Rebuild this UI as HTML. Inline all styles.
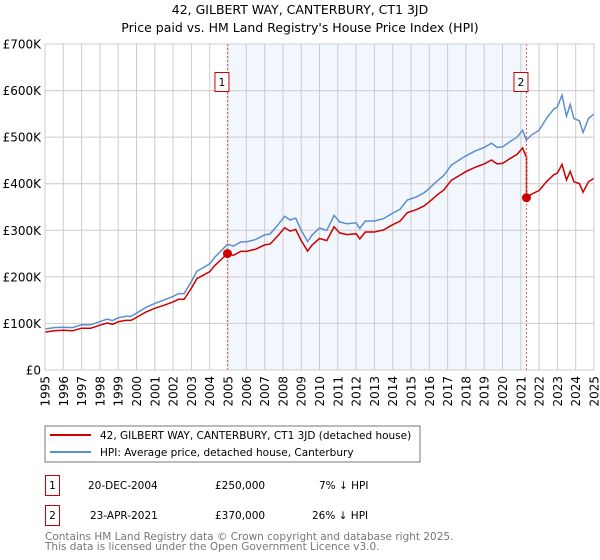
<!DOCTYPE html>
<html><head><meta charset="utf-8"><style>
body{margin:0;background:#fff;font-family:"DejaVu Sans","Liberation Sans",sans-serif;}
#wrap{position:relative;width:600px;height:560px;overflow:hidden;}
svg text{font-family:"DejaVu Sans","Liberation Sans",sans-serif;}
</style></head><body>
<div id="wrap">
<svg id="chart" width="600" height="560">
<text x="300" y="14" text-anchor="middle" font-size="12.5">42, GILBERT WAY, CANTERBURY, CT1 3JD</text>
<text x="300" y="32" text-anchor="middle" font-size="12.5">Price paid vs. HM Land Registry's House Price Index (HPI)</text>
<g id="plot"></g>
<rect x="45" y="426" width="375" height="36" fill="#fff" stroke="#777"/>
<line x1="50" y1="435" x2="91" y2="435" stroke="#cc0000" stroke-width="2"/>
<text x="100" y="439" font-size="10.5">42, GILBERT WAY, CANTERBURY, CT1 3JD (detached house)</text>
<line x1="50" y1="452" x2="91" y2="452" stroke="#5b8fd0" stroke-width="2"/>
<text x="100" y="456" font-size="10.5">HPI: Average price, detached house, Canterbury</text>
<g>
<rect x="45.5" y="475.5" width="14" height="20" fill="#fff" stroke="#cc0000"/>
<text x="52.5" y="489" text-anchor="middle" font-size="10.5">1</text>
<text x="88" y="489" font-size="10.5">20-DEC-2004</text>
<text x="215" y="489" font-size="10.5">£250,000</text>
<text x="319" y="489" font-size="10.5">7% ↓ HPI</text>
</g>
<g>
<rect x="45.5" y="505.5" width="14" height="20" fill="#fff" stroke="#cc0000"/>
<text x="52.5" y="519" text-anchor="middle" font-size="10.5">2</text>
<text x="90" y="519" font-size="10.5">23-APR-2021</text>
<text x="215" y="519" font-size="10.5">£370,000</text>
<text x="312" y="519" font-size="10.5">26% ↓ HPI</text>
</g>
<text x="45" y="540" font-size="10.5" fill="#777">Contains HM Land Registry data © Crown copyright and database right 2025.</text>
<text x="45" y="550" font-size="10.5" fill="#777">This data is licensed under the Open Government Licence v3.0.</text>
</svg>
</div>
<script>
const hpiYears=[1995,1995.5,1996,1996.5,1997,1997.5,1998,1998.4,1998.7,1999,1999.4,1999.7,2000,2000.5,2001,2001.5,2002,2002.3,2002.6,2003,2003.3,2003.7,2004,2004.3,2004.6,2004.97,2005.3,2005.7,2006,2006.5,2007,2007.3,2007.8,2008.1,2008.4,2008.7,2009,2009.35,2009.6,2010,2010.4,2010.8,2011.1,2011.5,2012,2012.2,2012.5,2013,2013.5,2014,2014.4,2014.8,2015.3,2015.7,2016,2016.4,2016.8,2017.2,2017.6,2018,2018.5,2019,2019.4,2019.7,2020,2020.4,2020.8,2021.1,2021.3,2021.6,2022,2022.4,2022.8,2023,2023.25,2023.5,2023.7,2023.9,2024.2,2024.4,2024.7,2025];
const hpiValues=[88,91,92,91,97,97,104,109,106,112,115,115,122,134,143,150,158,164,164,190,212,221,228,243,255,270,266,275,275,280,290,292,315,330,322,326,300,276,290,305,300,332,318,314,316,304,320,320,325,337,345,365,372,380,390,405,418,440,450,460,470,478,487,478,479,490,500,515,494,505,515,540,560,565,590,545,570,540,535,510,540,550];
const saleDates=[2004.97,2021.31];
const salePrices=[250,370];
const saleLabels=["1","2"];
const yTicks=[0,100,200,300,400,500,600,700];
const yTickLabels=["£0","£100K","£200K","£300K","£400K","£500K","£600K","£700K"];
const xTicks=[1995,1996,1997,1998,1999,2000,2001,2002,2003,2004,2005,2006,2007,2008,2009,2010,2011,2012,2013,2014,2015,2016,2017,2018,2019,2020,2021,2022,2023,2024,2025];

const X0=45,X1=594,Y0=370,Y1=44;
const x=t=>X0+(t-1995)/(2025-1995)*(X1-X0);
const y=v=>Y0-v/700*(Y0-Y1);
const NS="http://www.w3.org/2000/svg";
const g=document.getElementById('plot');
function mk(tag,attrs){const e=document.createElementNS(NS,tag);for(const k in attrs)e.setAttribute(k,attrs[k]);g.appendChild(e);return e;}
function hpiAt(t){for(let i=0;i<hpiYears.length-1;i++){if(t>=hpiYears[i]&&t<=hpiYears[i+1]){const f=(t-hpiYears[i])/(hpiYears[i+1]-hpiYears[i]);return hpiValues[i]+f*(hpiValues[i+1]-hpiValues[i]);}}return hpiValues[hpiValues.length-1];}

let r=mk('rect',{x:x(saleDates[0]),y:Y1,width:x(saleDates[1])-x(saleDates[0]),height:Y0-Y1,fill:'#eef3fc',opacity:0.75});


xTicks.forEach(t=>{const l=mk('line',{x1:x(t),x2:x(t),y1:Y1,y2:Y0,stroke:'#cccccc'});


const tx=mk('text',{x:0,y:0,'font-size':'12','text-anchor':'end',transform:`translate(${x(t)+4.5},${Y0+6}) rotate(-90)`});tx.textContent=t;

});
yTicks.forEach((v,i)=>{const l=mk('line',{x1:X0,x2:X1,y1:y(v),y2:y(v),stroke:'#cccccc'});


const tx=mk('text',{x:X0-4,y:y(v)+4.5,'font-size':'12','text-anchor':'end'});tx.textContent=yTickLabels[i];

});
let ax=mk('line',{x1:X0,x2:X1,y1:Y0,y2:Y0,stroke:'#bbb'});



let hp=hpiYears.map((t,i)=>x(t).toFixed(1)+','+y(hpiValues[i]).toFixed(1)).join(' ');
let hl=mk('polyline',{points:hp,fill:'none',stroke:'#5b8fd0','stroke-width':1.5});



// price paid, indexed by HPI relative to the most recent sale
const ratio0=salePrices[0]/hpiAt(saleDates[0]);
const ratio1=salePrices[1]/hpiAt(saleDates[1]);
let pts=[];
hpiYears.forEach((t,i)=>{if(t<saleDates[1])pts.push([t,hpiValues[i]*ratio0]);});
pts.push([saleDates[1],hpiAt(saleDates[1])*ratio0]);
pts.push([saleDates[1],salePrices[1]]);
hpiYears.forEach((t,i)=>{if(t>saleDates[1])pts.push([t,hpiValues[i]*ratio1]);});
let pl=mk('polyline',{points:pts.map(p=>x(p[0]).toFixed(1)+','+y(p[1]).toFixed(1)).join(' '),fill:'none',stroke:'#cc0000','stroke-width':1.5});



saleDates.forEach((t,i)=>{
 const dl=mk('line',{x1:x(t),x2:x(t),y1:Y1,y2:Y0,stroke:'#ee5555','stroke-dasharray':'2,2','stroke-width':1});
 
 
 const c=mk('circle',{cx:x(t),cy:y(salePrices[i]),r:4.5,fill:'#cc0000'});
 
 
 const b=mk('rect',{x:x(t)-12.5,y:72.5,width:14,height:19,fill:'#fff',stroke:'#cc0000'});
 
 
 const bt=mk('text',{x:x(t)-5.5,y:86,'font-size':'10.5','text-anchor':'middle'});bt.textContent=saleLabels[i];
 
 
});
let fr=mk('rect',{x:X0,y:Y1,width:X1-X0,height:Y0-Y1,fill:'none',stroke:'#cccccc'});


</script>
</body></html>
